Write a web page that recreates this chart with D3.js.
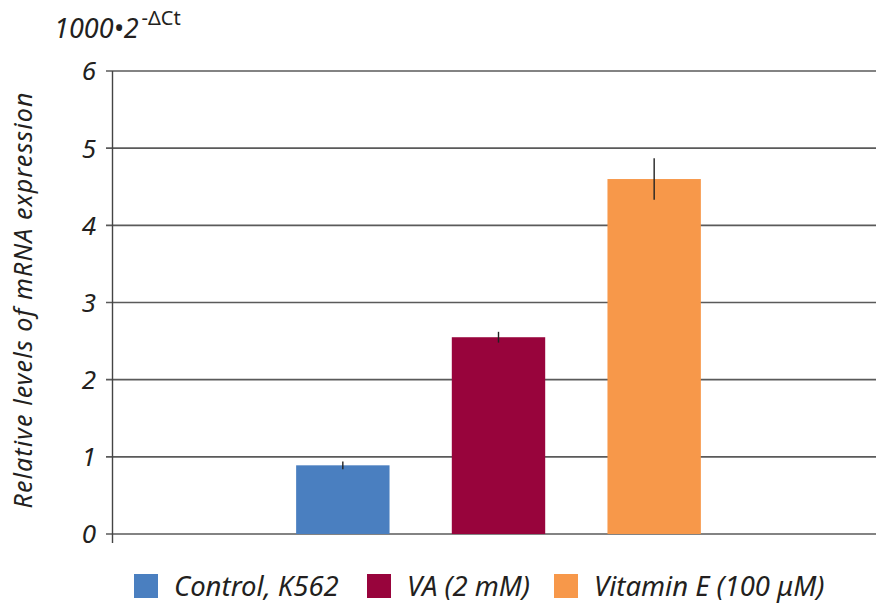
<!DOCTYPE html>
<html><head><meta charset="utf-8">
<script src="https://cdn.jsdelivr.net/npm/d3@7"></script>
<style>
html,body{margin:0;padding:0;background:#fff;}
svg{display:block;}
text{font-family:"Noto Sans",sans-serif;font-style:italic;fill:#231f20;}
</style></head>
<body>
<svg id="c" width="876" height="603"></svg>
<script>
const categories = ["Control, K562", "VA (2 mM)", "Vitamin E (100 μM)"];
const values = [0.89, 2.55, 4.60];
const errors = [0.05, 0.07, 0.27];
const colors = ["#4A7FC0", "#98043C", "#F7984A"];
const yTicks = [0, 1, 2, 3, 4, 5, 6];

const svg = d3.select("#c");
const axisX = 112.5;
const y = d3.scaleLinear().domain([0, 6]).range([534, 71]);
const x = d3.scaleBand().domain(categories).range([265, 732]).paddingInner(0.4).paddingOuter(0.2);

// gridlines
svg.append("g").selectAll("line").data(yTicks).join("line")
  .attr("x1", 106).attr("x2", 876)
  .attr("y1", d => y(d)).attr("y2", d => y(d))
  .attr("stroke", "#5a5a5a").attr("stroke-width", 1.6);

// y axis line
svg.append("line").attr("x1", axisX).attr("x2", axisX)
  .attr("y1", y(6)).attr("y2", 543)
  .attr("stroke", "#444").attr("stroke-width", 1.4);

// tick labels
svg.append("g").selectAll("text").data(yTicks).join("text")
  .attr("x", 96).attr("y", d => y(d)).attr("dy", "0.36em")
  .attr("text-anchor", "end").attr("font-size", 26)
  .text(d => d);

// bars
svg.append("g").selectAll("rect").data(categories).join("rect")
  .attr("x", d => x(d)).attr("width", x.bandwidth())
  .attr("y", (d, i) => y(values[i])).attr("height", (d, i) => y(0) - y(values[i]))
  .attr("fill", (d, i) => colors[i]);

// error bars
svg.append("g").selectAll("line").data(categories).join("line")
  .attr("x1", d => x(d) + x.bandwidth() / 2).attr("x2", d => x(d) + x.bandwidth() / 2)
  .attr("y1", (d, i) => y(values[i] + errors[i])).attr("y2", (d, i) => y(values[i] - errors[i]))
  .attr("stroke", "#222").attr("stroke-width", 1.4);

// title
const t = svg.append("text").attr("x", 54).attr("y", 38).attr("font-size", 27);
t.append("tspan").text("1000•2");
t.append("tspan").attr("dy", -13).attr("dx", 3).attr("font-size", 20)
  .style("font-style", "normal").text("-ΔCt");

// y label
svg.append("text")
  .attr("transform", `translate(32,${(92 + 508) / 2}) rotate(-90)`)
  .attr("text-anchor", "middle").attr("font-size", 25).attr("letter-spacing", 1.1)
  .text("Relative levels of mRNA expression");

// legend
const legX = [134, 367, 554];
const leg = svg.append("g").selectAll("g").data(categories).join("g")
  .attr("transform", (d, i) => `translate(${legX[i]},574)`);
leg.append("rect").attr("width", 24).attr("height", 24).attr("fill", (d, i) => colors[i]);
leg.append("text").attr("x", 40).attr("y", 12).attr("dy", "0.36em")
  .attr("font-size", 27.5).text(d => d);
</script>
</body></html>
